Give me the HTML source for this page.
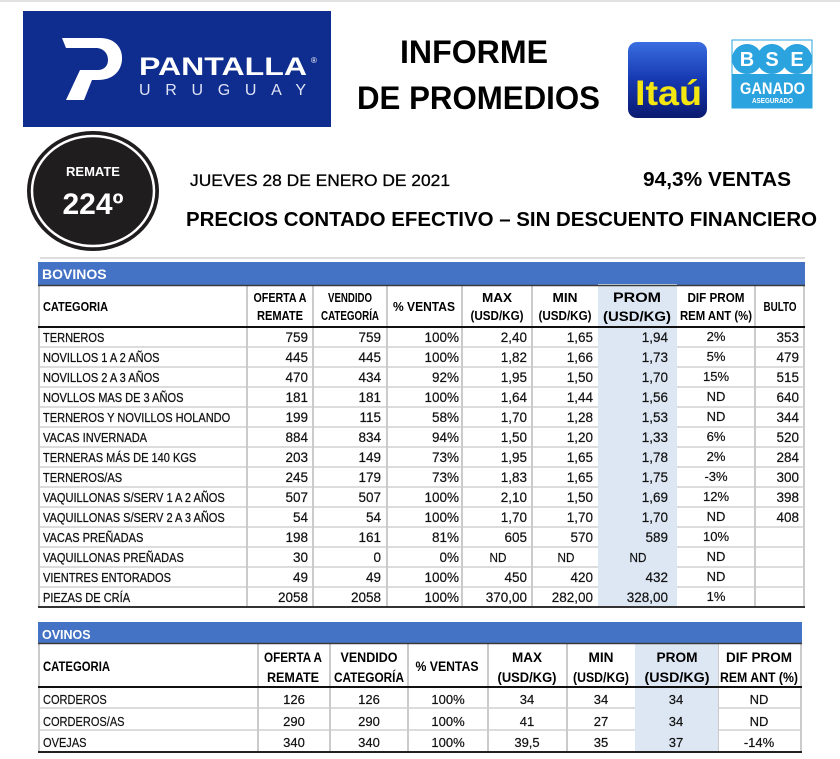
<!DOCTYPE html>
<html><head><meta charset="utf-8"><style>
html,body{margin:0;padding:0;background:#fff;}
svg{display:block;}
text{font-family:"Liberation Sans",Arial,sans-serif;fill:#111;}
.b{font-weight:bold;}
.w{fill:#fff;}
.h{font-weight:bold;font-size:13px;fill:#000;}
.ho{font-weight:bold;font-size:13.5px;fill:#000;}
.t{font-size:13px;stroke:#111;stroke-width:0.25;}
.n{font-size:13.5px;stroke:#111;stroke-width:0.2;}
.d{font-size:13px;stroke:#111;stroke-width:0.2;}
.to{font-size:13px;stroke:#111;stroke-width:0.2;}
</style></head><body>
<svg width="840" height="759" viewBox="0 0 840 759" xmlns="http://www.w3.org/2000/svg">
<defs>
<linearGradient id="itau" x1="0" y1="0" x2="0" y2="1"><stop offset="0" stop-color="#3a6ee0"/><stop offset="0.5" stop-color="#1638b0"/><stop offset="1" stop-color="#0a1a70"/></linearGradient>
</defs>
<rect width="840" height="759" fill="#fff"/>
<line x1="0" y1="1" x2="840" y2="1" stroke="#d9d9d9" stroke-width="1.5"/>

<!-- Pantalla logo -->
<rect x="23" y="11" width="308" height="116" fill="#0f2c8f"/>
<path d="M62,38 L100,38 C115,38 123,48 122,60 C121,72 112,80 98,80 L92,80 L84,100 L66,100 L80,70 L98,70 C104,70 108,66 108,60 C108,53 103,48 96,48 L66,48 Z" fill="#fff"/>
<text x="139" y="75" class="b w" font-size="25" textLength="168" lengthAdjust="spacingAndGlyphs">PANTALLA</text>
<text x="311" y="63" class="w" font-size="8">®</text>
<text x="139" y="95" class="w" font-size="16" textLength="167" lengthAdjust="spacing" style="fill:#dfe4f5">URUGUAY</text>

<!-- Remate circle -->
<ellipse cx="93" cy="191" rx="66" ry="60" fill="#1f1d1e"/>
<ellipse cx="93" cy="191" rx="61" ry="55" fill="none" stroke="#fff" stroke-width="2.5"/>
<text x="93" y="176" class="b w" font-size="13" text-anchor="middle">REMATE</text>
<text x="93" y="214" class="b w" font-size="30" text-anchor="middle">224º</text>

<!-- Titles -->
<text x="400" y="63" class="b" font-size="32" textLength="148" lengthAdjust="spacingAndGlyphs" style="fill:#000">INFORME</text>
<text x="357" y="109" class="b" font-size="32" textLength="243" lengthAdjust="spacingAndGlyphs" style="fill:#000">DE PROMEDIOS</text>

<!-- Itau -->
<rect x="628" y="42" width="79" height="76" rx="9" fill="url(#itau)"/>
<text x="635" y="105" class="b" font-size="35" textLength="67" lengthAdjust="spacingAndGlyphs" style="fill:#f4e611">Itaú</text>

<!-- BSE -->
<rect x="732" y="40" width="80" height="68" fill="#fff" stroke="#2aa3df" stroke-width="1"/>
<rect x="732" y="74" width="80" height="34" fill="#2aa3df"/>
<circle cx="747" cy="59" r="15" fill="#2aa3df"/>
<circle cx="772" cy="59" r="15" fill="#2aa3df"/>
<circle cx="797" cy="59" r="15" fill="#2aa3df"/>
<text x="747" y="66" class="b w" font-size="20" text-anchor="middle">B</text>
<text x="772" y="66" class="b w" font-size="20" text-anchor="middle">S</text>
<text x="797" y="66" class="b w" font-size="20" text-anchor="middle">E</text>
<text x="740" y="94" class="b w" font-size="17" textLength="65" lengthAdjust="spacingAndGlyphs">GANADO</text>
<text x="752" y="103" class="b w" font-size="7.5" textLength="41" lengthAdjust="spacingAndGlyphs">ASEGURADO</text>

<!-- Subheaders -->
<text x="190" y="186" font-size="17" textLength="260" lengthAdjust="spacingAndGlyphs" style="fill:#000;stroke:#000;stroke-width:0.3">JUEVES 28 DE ENERO DE 2021</text>
<text x="643" y="186" class="b" font-size="20" textLength="148" lengthAdjust="spacingAndGlyphs" style="fill:#000">94,3% VENTAS</text>
<text x="186" y="226" class="b" font-size="20" textLength="631" lengthAdjust="spacingAndGlyphs" style="fill:#000">PRECIOS CONTADO EFECTIVO – SIN DESCUENTO FINANCIERO</text>
<line x1="40" y1="258" x2="805" y2="258" stroke="#d2d2d2" stroke-width="1.5"/>

<!-- ================= BOVINOS ================= -->
<rect x="38" y="262" width="767" height="23" fill="#4472c4"/>
<text x="42" y="279" class="b w" font-size="14">BOVINOS</text>
<g stroke="#d0d0d0" stroke-width="1.5">
<line x1="38" y1="347" x2="805" y2="347"/><line x1="38" y1="367" x2="805" y2="367"/><line x1="38" y1="387" x2="805" y2="387"/><line x1="38" y1="407" x2="805" y2="407"/><line x1="38" y1="427" x2="805" y2="427"/><line x1="38" y1="447" x2="805" y2="447"/><line x1="38" y1="467" x2="805" y2="467"/><line x1="38" y1="487" x2="805" y2="487"/><line x1="38" y1="507" x2="805" y2="507"/><line x1="38" y1="527" x2="805" y2="527"/><line x1="38" y1="547" x2="805" y2="547"/><line x1="38" y1="567" x2="805" y2="567"/><line x1="38" y1="587" x2="805" y2="587"/>
</g>
<g stroke="#cbcbcb" stroke-width="2">
<line x1="39" y1="285" x2="39" y2="607"/><line x1="247" y1="285" x2="247" y2="607"/><line x1="313" y1="285" x2="313" y2="607"/><line x1="387" y1="285" x2="387" y2="607"/><line x1="462" y1="285" x2="462" y2="607"/><line x1="532" y1="285" x2="532" y2="607"/><line x1="755" y1="285" x2="755" y2="607"/><line x1="804" y1="285" x2="804" y2="607"/>
</g>
<rect x="598" y="284" width="79" height="323" fill="#dde7f3"/>
<line x1="38" y1="285.5" x2="805" y2="285.5" stroke="#3a3a3a" stroke-width="1.5"/>
<line x1="38" y1="327" x2="805" y2="327" stroke="#111" stroke-width="2"/>
<line x1="38" y1="607" x2="805" y2="607" stroke="#333" stroke-width="2"/>

<!-- header texts -->
<text x="43" y="311" class="h" textLength="65" lengthAdjust="spacingAndGlyphs">CATEGORIA</text>
<text x="280" y="302" class="h" text-anchor="middle" textLength="53" lengthAdjust="spacingAndGlyphs">OFERTA A</text>
<text x="280" y="320" class="h" text-anchor="middle" textLength="46" lengthAdjust="spacingAndGlyphs">REMATE</text>
<text x="350" y="302" class="h" text-anchor="middle" textLength="44" lengthAdjust="spacingAndGlyphs">VENDIDO</text>
<text x="350" y="320" class="h" text-anchor="middle" textLength="58" lengthAdjust="spacingAndGlyphs">CATEGORÍA</text>
<text x="424" y="311" class="h" text-anchor="middle" textLength="62" lengthAdjust="spacingAndGlyphs">% VENTAS</text>
<text x="497" y="302" class="h" text-anchor="middle" textLength="30" lengthAdjust="spacingAndGlyphs">MAX</text>
<text x="497" y="320" class="h" text-anchor="middle" textLength="53" lengthAdjust="spacingAndGlyphs">(USD/KG)</text>
<text x="565" y="302" class="h" text-anchor="middle" textLength="25" lengthAdjust="spacingAndGlyphs">MIN</text>
<text x="565" y="320" class="h" text-anchor="middle" textLength="53" lengthAdjust="spacingAndGlyphs">(USD/KG)</text>
<text x="637" y="302" class="h" style="font-size:14px" text-anchor="middle" textLength="48" lengthAdjust="spacingAndGlyphs">PROM</text>
<text x="637" y="321" class="h" style="font-size:14px" text-anchor="middle" textLength="68" lengthAdjust="spacingAndGlyphs">(USD/KG)</text>
<text x="716" y="302" class="h" text-anchor="middle" textLength="57" lengthAdjust="spacingAndGlyphs">DIF PROM</text>
<text x="716" y="320" class="h" text-anchor="middle" textLength="72" lengthAdjust="spacingAndGlyphs">REM ANT (%)</text>
<text x="780" y="311" class="h" text-anchor="middle" textLength="33" lengthAdjust="spacingAndGlyphs">BULTO</text>

<!-- category column -->
<g class="t">
<text transform="translate(43 342) scale(.85 1)">TERNEROS</text>
<text transform="translate(43 362) scale(.85 1)">NOVILLOS 1 A 2 AÑOS</text>
<text transform="translate(43 382) scale(.85 1)">NOVILLOS 2 A 3 AÑOS</text>
<text transform="translate(43 402) scale(.85 1)">NOVLLOS MAS DE 3 AÑOS</text>
<text transform="translate(43 422) scale(.85 1)">TERNEROS Y NOVILLOS HOLANDO</text>
<text transform="translate(43 442) scale(.85 1)">VACAS INVERNADA</text>
<text transform="translate(43 462) scale(.85 1)">TERNERAS MÁS DE 140 KGS</text>
<text transform="translate(43 482) scale(.85 1)">TERNEROS/AS</text>
<text transform="translate(43 502) scale(.85 1)">VAQUILLONAS S/SERV 1 A 2 AÑOS</text>
<text transform="translate(43 522) scale(.85 1)">VAQUILLONAS S/SERV 2 A 3 AÑOS</text>
<text transform="translate(43 542) scale(.85 1)">VACAS PREÑADAS</text>
<text transform="translate(43 562) scale(.85 1)">VAQUILLONAS PREÑADAS</text>
<text transform="translate(43 582) scale(.85 1)">VIENTRES ENTORADOS</text>
<text transform="translate(43 602) scale(.85 1)">PIEZAS DE CRÍA</text>
</g>
<!-- oferta -->
<g class="n" text-anchor="end">
<text x="308" y="342">759</text><text x="308" y="362">445</text><text x="308" y="382">470</text><text x="308" y="402">181</text><text x="308" y="422">199</text><text x="308" y="442">884</text><text x="308" y="462">203</text><text x="308" y="482">245</text><text x="308" y="502">507</text><text x="308" y="522">54</text><text x="308" y="542">198</text><text x="308" y="562">30</text><text x="308" y="582">49</text><text x="308" y="602">2058</text>
</g>
<!-- vendido -->
<g class="n" text-anchor="end">
<text x="381" y="342">759</text><text x="381" y="362">445</text><text x="381" y="382">434</text><text x="381" y="402">181</text><text x="381" y="422">115</text><text x="381" y="442">834</text><text x="381" y="462">149</text><text x="381" y="482">179</text><text x="381" y="502">507</text><text x="381" y="522">54</text><text x="381" y="542">161</text><text x="381" y="562">0</text><text x="381" y="582">49</text><text x="381" y="602">2058</text>
</g>
<!-- % ventas -->
<g class="n" text-anchor="end">
<text x="459" y="342">100%</text><text x="459" y="362">100%</text><text x="459" y="382">92%</text><text x="459" y="402">100%</text><text x="459" y="422">58%</text><text x="459" y="442">94%</text><text x="459" y="462">73%</text><text x="459" y="482">73%</text><text x="459" y="502">100%</text><text x="459" y="522">100%</text><text x="459" y="542">81%</text><text x="459" y="562">0%</text><text x="459" y="582">100%</text><text x="459" y="602">100%</text>
</g>
<!-- max -->
<g class="n" text-anchor="end">
<text x="527" y="342">2,40</text><text x="527" y="362">1,82</text><text x="527" y="382">1,95</text><text x="527" y="402">1,64</text><text x="527" y="422">1,70</text><text x="527" y="442">1,50</text><text x="527" y="462">1,95</text><text x="527" y="482">1,83</text><text x="527" y="502">2,10</text><text x="527" y="522">1,70</text><text x="527" y="542">605</text><text x="527" y="582">450</text><text x="527" y="602">370,00</text>
</g>
<text transform="translate(498 562) scale(.9 1)" class="d" text-anchor="middle">ND</text>
<!-- min -->
<g class="n" text-anchor="end">
<text x="593" y="342">1,65</text><text x="593" y="362">1,66</text><text x="593" y="382">1,50</text><text x="593" y="402">1,44</text><text x="593" y="422">1,28</text><text x="593" y="442">1,20</text><text x="593" y="462">1,65</text><text x="593" y="482">1,65</text><text x="593" y="502">1,50</text><text x="593" y="522">1,70</text><text x="593" y="542">570</text><text x="593" y="582">420</text><text x="593" y="602">282,00</text>
</g>
<text transform="translate(566 562) scale(.9 1)" class="d" text-anchor="middle">ND</text>
<!-- prom -->
<g class="n" text-anchor="end">
<text x="668" y="342">1,94</text><text x="668" y="362">1,73</text><text x="668" y="382">1,70</text><text x="668" y="402">1,56</text><text x="668" y="422">1,53</text><text x="668" y="442">1,33</text><text x="668" y="462">1,78</text><text x="668" y="482">1,75</text><text x="668" y="502">1,69</text><text x="668" y="522">1,70</text><text x="668" y="542">589</text><text x="668" y="582">432</text><text x="668" y="602">328,00</text>
</g>
<text transform="translate(638 562) scale(.9 1)" class="d" text-anchor="middle">ND</text>
<!-- dif -->
<g class="d" text-anchor="middle">
<text x="716" y="341">2%</text><text x="716" y="361">5%</text><text x="716" y="381">15%</text><text x="716" y="401">ND</text><text x="716" y="421">ND</text><text x="716" y="441">6%</text><text x="716" y="461">2%</text><text x="716" y="481">-3%</text><text x="716" y="501">12%</text><text x="716" y="521">ND</text><text x="716" y="541">10%</text><text x="716" y="561">ND</text><text x="716" y="581">ND</text><text x="716" y="601">1%</text>
</g>
<!-- bulto -->
<g class="n" text-anchor="end">
<text x="799" y="342">353</text><text x="799" y="362">479</text><text x="799" y="382">515</text><text x="799" y="402">640</text><text x="799" y="422">344</text><text x="799" y="442">520</text><text x="799" y="462">284</text><text x="799" y="482">300</text><text x="799" y="502">398</text><text x="799" y="522">408</text>
</g>

<!-- ================= OVINOS ================= -->
<rect x="38" y="622" width="764" height="21" fill="#4472c4"/>
<text x="42" y="639" class="b w" font-size="12.5">OVINOS</text>
<g stroke="#d0d0d0" stroke-width="1.5">
<line x1="38" y1="708" x2="801" y2="708"/><line x1="38" y1="730" x2="801" y2="730"/>
</g>
<g stroke="#cbcbcb" stroke-width="2">
<line x1="39" y1="643" x2="39" y2="752"/><line x1="258" y1="643" x2="258" y2="752"/><line x1="330" y1="643" x2="330" y2="752"/><line x1="408" y1="643" x2="408" y2="752"/><line x1="488" y1="643" x2="488" y2="752"/><line x1="567" y1="643" x2="567" y2="752"/><line x1="718" y1="643" x2="718" y2="752"/><line x1="801" y1="643" x2="801" y2="752"/>
</g>
<rect x="635" y="643" width="83" height="109" fill="#dde7f3"/>
<line x1="38" y1="643.5" x2="802" y2="643.5" stroke="#3a3a3a" stroke-width="1.5"/>
<line x1="38" y1="687" x2="802" y2="687" stroke="#111" stroke-width="2"/>
<line x1="38" y1="752" x2="802" y2="752" stroke="#222" stroke-width="2"/>

<text x="43" y="671" class="ho" textLength="67" lengthAdjust="spacingAndGlyphs">CATEGORIA</text>
<text x="293" y="662" class="ho" text-anchor="middle" textLength="58" lengthAdjust="spacingAndGlyphs">OFERTA A</text>
<text x="293" y="682" class="ho" text-anchor="middle" textLength="52" lengthAdjust="spacingAndGlyphs">REMATE</text>
<text x="369" y="662" class="ho" text-anchor="middle" textLength="57" lengthAdjust="spacingAndGlyphs">VENDIDO</text>
<text x="369" y="682" class="ho" text-anchor="middle" textLength="70" lengthAdjust="spacingAndGlyphs">CATEGORÍA</text>
<text x="447" y="671" class="ho" text-anchor="middle" textLength="63" lengthAdjust="spacingAndGlyphs">% VENTAS</text>
<text x="527" y="662" class="ho" text-anchor="middle" textLength="30" lengthAdjust="spacingAndGlyphs">MAX</text>
<text x="527" y="682" class="ho" text-anchor="middle" textLength="59" lengthAdjust="spacingAndGlyphs">(USD/KG)</text>
<text x="601" y="662" class="ho" text-anchor="middle" textLength="25" lengthAdjust="spacingAndGlyphs">MIN</text>
<text x="601" y="682" class="ho" text-anchor="middle" textLength="56" lengthAdjust="spacingAndGlyphs">(USD/KG)</text>
<text x="677" y="662" class="ho" text-anchor="middle" textLength="41" lengthAdjust="spacingAndGlyphs">PROM</text>
<text x="677" y="682" class="ho" text-anchor="middle" textLength="65" lengthAdjust="spacingAndGlyphs">(USD/KG)</text>
<text x="759" y="662" class="ho" text-anchor="middle" textLength="66" lengthAdjust="spacingAndGlyphs">DIF PROM</text>
<text x="759" y="682" class="ho" text-anchor="middle" textLength="78" lengthAdjust="spacingAndGlyphs">REM ANT (%)</text>

<g class="to">
<text transform="translate(43 704) scale(.85 1)">CORDEROS</text>
<text transform="translate(43 726) scale(.85 1)">CORDEROS/AS</text>
<text transform="translate(43 747) scale(.85 1)">OVEJAS</text>
</g>
<g class="to" text-anchor="middle">
<text x="294" y="704">126</text><text x="294" y="726">290</text><text x="294" y="747">340</text>
<text x="369" y="704">126</text><text x="369" y="726">290</text><text x="369" y="747">340</text>
<text x="448" y="704">100%</text><text x="448" y="726">100%</text><text x="448" y="747">100%</text>
<text x="527" y="704">34</text><text x="527" y="726">41</text><text x="527" y="747">39,5</text>
<text x="601" y="704">34</text><text x="601" y="726">27</text><text x="601" y="747">35</text>
<text x="676" y="704">34</text><text x="676" y="726">34</text><text x="676" y="747">37</text>
<text x="759" y="704">ND</text><text x="759" y="726">ND</text><text x="759" y="747">-14%</text>
</g>
</svg>
</body></html>
